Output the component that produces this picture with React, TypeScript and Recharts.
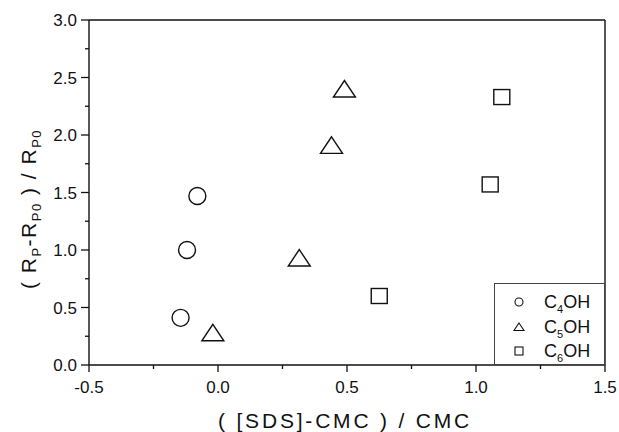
import React from 'react';
import {
  ScatterChart,
  Scatter,
  XAxis,
  YAxis,
  ReferenceLine,
  Legend,
  Customized,
} from 'recharts';

// C4OH
const c4X = [-0.145, -0.12, -0.08];
const c4Y = [0.41, 1.0, 1.47];
// C5OH
const c5X = [-0.02, 0.315, 0.44, 0.49];
const c5Y = [0.28, 0.93, 1.91, 2.4];
// C6OH
const c6X = [0.625, 1.055, 1.1];
const c6Y = [0.6, 1.57, 2.33];

const xTicks = [-0.5, -0.25, 0, 0.25, 0.5, 0.75, 1, 1.25, 1.5];
const yTicks = [0, 0.25, 0.5, 0.75, 1, 1.25, 1.5, 1.75, 2, 2.25, 2.5, 2.75, 3];

const toPoints = (xs: number[], ys: number[]) => xs.map((x, i) => ({ x, y: ys[i] }));
const c4 = toPoints(c4X, c4Y);
const c5 = toPoints(c5X, c5Y);
const c6 = toPoints(c6X, c6Y);

const INK = '#111';
const FONT = 'Liberation Sans, Arial, sans-serif';

const isMajor = (v: number) => Math.abs(v * 2 - Math.round(v * 2)) < 1e-6;

const XTick = (props: any) => {
  const { x, y, payload } = props;
  const major = isMajor(payload.value);
  return (
    <g>
      <line x1={x} x2={x} y1={y} y2={y + (major ? 7 : 4)} stroke={INK} strokeWidth={1.3} />
      {major && (
        <text x={x} y={y + 28} textAnchor="middle" fontSize={17} fill={INK} fontFamily={FONT}>
          {payload.value.toFixed(1)}
        </text>
      )}
    </g>
  );
};

const YTick = (props: any) => {
  const { x, y, payload } = props;
  const major = isMajor(payload.value);
  return (
    <g>
      <line x1={x} x2={x - (major ? 8 : 4)} y1={y} y2={y} stroke={INK} strokeWidth={1.3} />
      {major && (
        <text x={x - 12} y={y + 6} textAnchor="end" fontSize={17} fill={INK} fontFamily={FONT}>
          {payload.value.toFixed(1)}
        </text>
      )}
    </g>
  );
};

const Circle = (props: any) => (
  <circle cx={props.cx} cy={props.cy} r={8.5} fill="none" stroke={INK} strokeWidth={1.4} />
);
const Triangle = (props: any) => {
  const { cx, cy } = props;
  return (
    <path
      d={`M${cx},${cy - 8.5} L${cx + 11},${cy + 8} L${cx - 11},${cy + 8} Z`}
      fill="none"
      stroke={INK}
      strokeWidth={1.4}
    />
  );
};
const Square = (props: any) => (
  <rect x={props.cx - 8} y={props.cy - 7.5} width={16} height={15} fill="none" stroke={INK} strokeWidth={1.4} />
);

const LegendBox = () => {
  const rows = [
    { name: '4', cy: 19 },
    { name: '5', cy: 44 },
    { name: '6', cy: 68 },
  ];
  return (
    <svg width={111} height={82} style={{ display: 'block' }}>
      <rect x={0.5} y={0.5} width={110} height={81} fill="white" stroke="#444" strokeWidth={1} />
      <circle cx={25} cy={rows[0].cy} r={4} fill="none" stroke={INK} strokeWidth={1.1} />
      <path d={`M25,${rows[1].cy - 4} L30,${rows[1].cy + 3.5} L20,${rows[1].cy + 3.5} Z`} fill="none" stroke={INK} strokeWidth={1.1} />
      <rect x={21} y={rows[2].cy - 4} width={8} height={8} fill="none" stroke={INK} strokeWidth={1.1} />
      {rows.map((r) => (
        <text key={r.name} x={50} y={r.cy + 6} fontSize={18} fill={INK} fontFamily={FONT}>
          C<tspan dy={5} fontSize={11}>{r.name}</tspan>
          <tspan dy={-5}>OH</tspan>
        </text>
      ))}
    </svg>
  );
};

const AxisTitles = () => (
  <g fontFamily={FONT} fill={INK}>
    <text x={345} y={428} textAnchor="middle" fontSize={21} letterSpacing={2.8}>
      ( [SDS]-CMC ) / CMC
    </text>
    <text transform="rotate(-90)" x={-209} y={36} textAnchor="middle" fontSize={21} letterSpacing={1.5}>
      ( R<tspan dy={5} fontSize={13}>P</tspan>
      <tspan dy={-5}>-R</tspan>
      <tspan dy={5} fontSize={13}>P0</tspan>
      <tspan dy={-5}> ) / R</tspan>
      <tspan dy={5} fontSize={13}>P0</tspan>
    </text>
  </g>
);

export default function App() {
  return (
    <div style={{ position: 'absolute', left: 0, top: 0, background: 'white' }}>
      <ScatterChart width={619} height={432} margin={{ top: 20, right: 14, bottom: 0, left: 0 }}>
        <XAxis
          type="number"
          dataKey="x"
          domain={[-0.5, 1.5]}
          ticks={xTicks}
          interval={0}
          height={67}
          tickSize={0}
          tickMargin={0}
          tickLine={false}
          tick={<XTick />}
          axisLine={{ stroke: INK, strokeWidth: 1.4 }}
        />
        <YAxis
          type="number"
          dataKey="y"
          domain={[0, 3]}
          ticks={yTicks}
          interval={0}
          width={89}
          tickSize={0}
          tickMargin={0}
          tickLine={false}
          tick={<YTick />}
          axisLine={{ stroke: INK, strokeWidth: 1.4 }}
        />
        <ReferenceLine y={3} stroke={INK} strokeWidth={1.4} />
        <ReferenceLine x={1.5} stroke={INK} strokeWidth={1.4} />
        <Legend
          layout="vertical"
          align="center"
          verticalAlign="middle"
          wrapperStyle={{ left: 494, top: 283, width: 111, height: 82 }}
          content={() => <LegendBox />}
        />
        <Scatter name="C4OH" data={c4} shape={<Circle />} isAnimationActive={false} />
        <Scatter name="C5OH" data={c5} shape={<Triangle />} isAnimationActive={false} />
        <Scatter name="C6OH" data={c6} shape={<Square />} isAnimationActive={false} />
        <Customized component={AxisTitles} />
      </ScatterChart>
    </div>
  );
}
